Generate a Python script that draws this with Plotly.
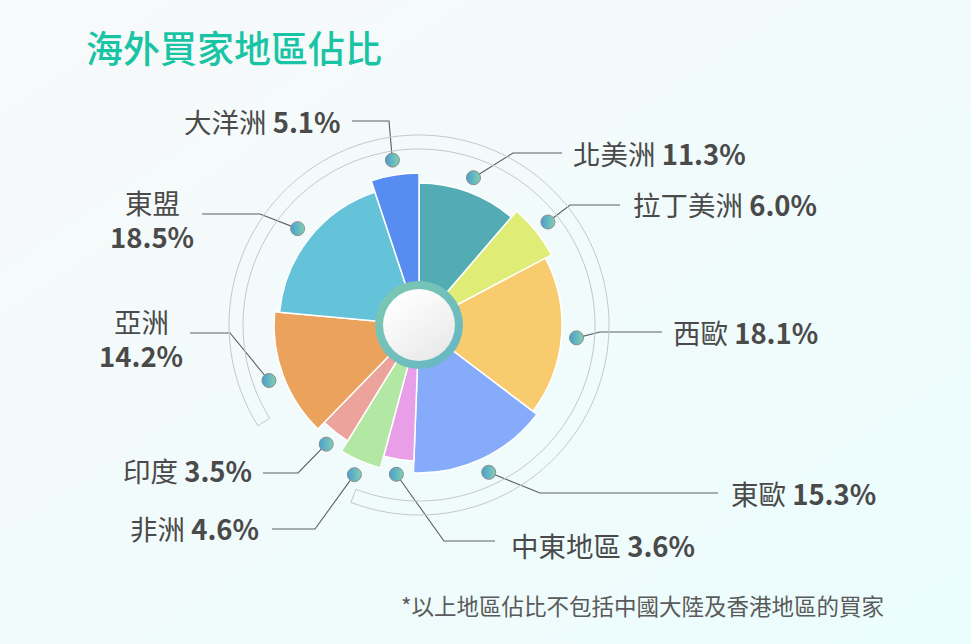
import base64
import math

import plotly.graph_objects as go

# data
regions = ["北美洲", "拉丁美洲", "西歐", "東歐", "中東地區", "非洲", "印度", "亞洲", "東盟", "大洋洲"]
shares = [11.3, 6.0, 18.1, 15.3, 3.6, 4.6, 3.5, 14.2, 18.5, 5.1]
radius = [142, 150, 143, 148, 136, 148, 136, 145, 140, 152]
colors = ["#53abb3", "#dfed76", "#f7cb6e", "#87abfb", "#e99fe7",
          "#b2e8a4", "#eca39c", "#eaa25c", "#64c2d9", "#578cf0"]

# label layout (pixels): elbow point, line end, text anchor
elbow_x = [513, 570, 600, 540, 444, 315, 298, 230, 260, 389]
elbow_y = [153, 205, 332, 493, 541, 529, 473, 333, 214, 121]
end_x = [562, 620, 662, 718, 495, 272, 263, 190, 202, 352]
text_x = [571, 631, 671, 729, 509, 261, 254, 141, 152, 343]
text_y = [153, 204, 332, 493, 545, 528, 470, 320, 201, 121]
text_anchor = ["left", "left", "left", "left", "left", "right", "right", "center", "center", "right"]
two_line = [False, False, False, False, False, False, False, True, True, False]
line_gap = 34

W, H = 971, 644
cx, cy = 419, 325
R = 200  # radial range == pixels

total = sum(shares)
widths = [s / total * 360 for s in shares]
mids = []
acc = 0
for w in widths:
    mids.append(acc + w / 2)
    acc += w

fig = go.Figure()

# leader lines (cartesian layer, under the dots)
dot_r = [r + 15 for r in radius]
for i in range(len(regions)):
    a = math.radians(mids[i])
    dx = cx + dot_r[i] * math.sin(a)
    dy = cy - dot_r[i] * math.cos(a)
    fig.add_trace(go.Scatter(
        x=[dx, elbow_x[i], end_x[i]], y=[dy, elbow_y[i], elbow_y[i]],
        mode="lines", line=dict(color="#5e5e5e", width=1.1),
        hoverinfo="skip", showlegend=False,
    ))

# rose slices
fig.add_trace(go.Barpolar(
    r=radius, theta=mids, width=widths,
    marker=dict(color=colors, line=dict(color="white", width=1.5)),
    hoverinfo="skip", showlegend=False,
))

# double arc band
arc_t = [238 + k * (323 / 120) for k in range(121)]
fig.add_trace(go.Scatterpolar(
    r=[190] * len(arc_t) + [176] * len(arc_t) + [190],
    theta=arc_t + arc_t[::-1] + [arc_t[0]],
    mode="lines", line=dict(color="#c4c7c8", width=1),
    hoverinfo="skip", showlegend=False,
))

# dots
fig.add_trace(go.Scatterpolar(
    r=dot_r, theta=mids, mode="markers",
    marker=dict(size=14, color="#4a9ecf",
                gradient=dict(type="horizontal", color="#80d1b3"),
                line=dict(color="#8c8c8c", width=1)),
    hoverinfo="skip", showlegend=False,
))

label_font = dict(family="Noto Sans CJK TC", size=27.5, color="#4a4a4a")
annotations = []
for i, name in enumerate(regions):
    pct = f"<b>{shares[i]:.1f}%</b>"
    if two_line[i]:
        annotations.append(dict(
            x=text_x[i], y=text_y[i], xref="x", yref="y", text=name, height=31,
            xanchor="center", yanchor="middle", showarrow=False, font=label_font,
        ))
        annotations.append(dict(
            x=text_x[i], y=text_y[i] + line_gap, xref="x", yref="y", text=pct, height=31,
            xanchor="center", yanchor="middle", showarrow=False, font=label_font,
        ))
    else:
        annotations.append(dict(
            x=text_x[i], y=text_y[i], xref="x", yref="y", text=f"{name} {pct}",
            xanchor=text_anchor[i], yanchor="middle", showarrow=False, font=label_font,
        ))
annotations.append(dict(
    x=84, y=47, xref="x", yref="y", text="海外買家地區佔比",
    xanchor="left", yanchor="middle", showarrow=False,
    font=dict(family="Noto Sans CJK TC", size=37, color="#19c4a5", weight=500),
))
annotations.append(dict(
    x=886, y=605, xref="x", yref="y", text="*以上地區佔比不包括中國大陸及香港地區的買家",
    xanchor="right", yanchor="middle", showarrow=False,
    font=dict(family="Noto Sans CJK TC", size=22.5, color="#5a5a5a"),
))

bg_svg = (
    f'<svg xmlns="http://www.w3.org/2000/svg" width="{W}" height="{H}">'
    '<defs><linearGradient id="g" x1="0" y1="0" x2="1" y2="1">'
    '<stop offset="0" stop-color="#f8f9fa"/><stop offset="1" stop-color="#ebfdfd"/>'
    '</linearGradient></defs>'
    f'<rect width="{W}" height="{H}" fill="url(#g)"/></svg>'
)
hub_svg = (
    '<svg xmlns="http://www.w3.org/2000/svg" width="90" height="90">'
    '<defs>'
    '<linearGradient id="t" x1="0" y1="0" x2="1" y2="1">'
    '<stop offset="0" stop-color="#7ecab0"/><stop offset="1" stop-color="#65b5c6"/></linearGradient>'
    '<linearGradient id="w" x1="0.2" y1="0.1" x2="0.8" y2="0.95">'
    '<stop offset="0" stop-color="#ffffff"/><stop offset="1" stop-color="#e9e9e9"/></linearGradient>'
    '</defs>'
    '<circle cx="45" cy="45" r="44" fill="url(#t)"/>'
    '<circle cx="45" cy="45" r="36" fill="url(#w)"/></svg>'
)


def uri(svg):
    return "data:image/svg+xml;base64," + base64.b64encode(svg.encode()).decode()


images = [
    dict(source=uri(bg_svg), xref="paper", yref="paper", x=0, y=1, sizex=1, sizey=1,
         xanchor="left", yanchor="top", sizing="stretch", layer="below"),
    dict(source=uri(hub_svg), xref="paper", yref="paper",
         x=(cx - 45) / W, y=1 - (cy - 45) / H, sizex=90 / W, sizey=90 / H,
         xanchor="left", yanchor="top", sizing="stretch", layer="above"),
]

fig.update_layout(
    width=W, height=H,
    margin=dict(l=0, r=0, t=0, b=0),
    paper_bgcolor="#f3fbfb",
    plot_bgcolor="rgba(0,0,0,0)",
    xaxis=dict(range=[0, W], visible=False, fixedrange=True, domain=[0, 1]),
    yaxis=dict(range=[H, 0], visible=False, fixedrange=True, domain=[0, 1]),
    polar=dict(
        domain=dict(x=[(cx - R) / W, (cx + R) / W], y=[(H - cy - R) / H, (H - cy + R) / H]),
        bgcolor="rgba(0,0,0,0)",
        angularaxis=dict(rotation=90, direction="clockwise", visible=False),
        radialaxis=dict(range=[0, R], visible=False),
        bargap=0,
    ),
    annotations=annotations,
    images=images,
    showlegend=False,
)

fig.write_html(
    "out.html",
    config={"displayModeBar": False},
    post_script="document.body.style.margin='0';document.body.style.overflow='hidden';",
)
